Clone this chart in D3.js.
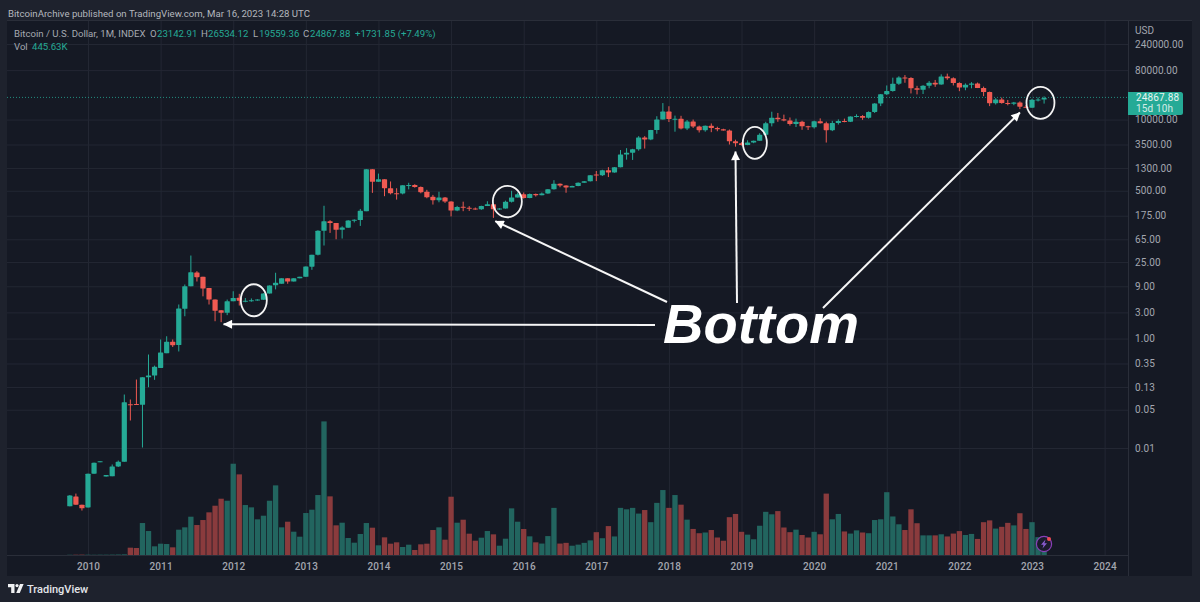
<!DOCTYPE html>
<html>
<head>
<meta charset="utf-8">
<script src="https://d3js.org/d3.v7.min.js"></script>
<style>
  html, body { margin: 0; padding: 0; background: #1e222d; }
  svg { display: block; font-family: Roboto, sans-serif; }
  .axis path, .axis line { display: none; }
  .axis text { fill: #a3a6af; font-size: 10px; font-family: Roboto, sans-serif; letter-spacing: 0.1px; }
  .grid path { display: none; }
  .grid line { stroke: #232733; stroke-width: 1; }
  .grid text { display: none; }
</style>
</head>
<body>
<svg id="chart" width="1200" height="602"></svg>
<script>
// monthly candles, Oct 2009 .. Mar 2023, one row per year
const opens = [
  0.00086, 0.0013, 0.00092,
  0.00082, 0.0034, 0.0055, 0.0030, 0.00305, 0.0046, 0.0056, 0.0632, 0.0635, 0.0615, 0.196, 0.21,
  0.29, 0.54, 0.87, 0.76, 3.5, 9.0, 16.1, 13.4, 8.4, 5.15, 3.3, 2.95,
  4.8, 5.55, 4.87, 4.92, 5.0, 5.1, 6.64, 9.4, 10.0, 12.6, 11, 12.6,
  13.4, 20.5, 33.8, 93, 139, 129, 97, 106, 141, 146, 212, 1239,
  728, 808, 557, 452, 447, 630, 640, 585, 480, 388, 336, 378,
  318, 217, 255, 244, 236, 230, 263, 284, 230, 236, 314, 377,
  431, 368, 437, 416, 448, 531, 673, 624, 575, 609, 700, 745,
  990, 965, 1190, 1080, 1348, 2300, 2480, 2875, 4700, 4340, 6450, 10000,
  14000, 10200, 10300, 6900, 9240, 7500, 6400, 7730, 7000, 6625, 6300, 4000,
  3700, 3430, 3800, 4100, 5270, 8550, 10800, 10080, 9600, 8300, 9150, 7550,
  7200, 9350, 8530, 6410, 8620, 9450, 9140, 11350, 11650, 10780, 13800, 19700,
  29000, 33100, 45200, 58800, 57700, 37300, 35000, 41500, 47100, 43800, 61300, 57000,
  46300, 38500, 43200, 45500, 37700, 31800, 19900, 23300, 20000, 19400, 20500, 17200,
  16500, 23100, 23142.91
];
const highs = [
  0.00138, 0.00147, 0.00092,
  0.0034, 0.0054, 0.0057, 0.0032, 0.0050, 0.0059, 0.0948, 0.0769, 0.178, 0.196, 0.51, 0.32,
  0.96, 1.10, 0.96, 4.18, 9.7, 32.8, 17, 13.4, 8.4, 5.15, 3.3, 5.15,
  7.3, 6.55, 5.5, 5.4, 5.2, 6.7, 9.3, 15.9, 12.6, 12.6, 12.6, 13.4,
  20.7, 33.8, 95, 266, 145, 129, 112, 145, 150, 233, 1239, 1239,
  1030, 808, 740, 556, 630, 700, 660, 600, 520, 420, 480, 385,
  320, 265, 316, 262, 247, 267, 322, 285, 240, 330, 500, 465,
  465, 445, 445, 465, 535, 780, 680, 630, 620, 710, 755, 968,
  1150, 1210, 1350, 1350, 2780, 3000, 2920, 4980, 4980, 6470, 11500, 20000,
  17500, 11800, 11700, 9800, 10000, 7750, 7770, 8480, 7400, 6790, 6570, 4290,
  3850, 4180, 4120, 5630, 9100, 13900, 13200, 12300, 10900, 10400, 9500, 7700,
  9550, 10500, 9170, 9470, 10070, 10400, 11400, 12470, 12050, 14100, 19900, 29300,
  41950, 58300, 61700, 64900, 59500, 41300, 42500, 50500, 52900, 67000, 69000, 59000,
  47900, 45800, 48200, 47400, 40000, 32400, 24600, 25200, 22800, 21000, 21500, 18400,
  23900, 25300, 26534.12
];
const lows = [
  0.00086, 0.00092, 0.00072,
  0.00082, 0.0034, 0.0055, 0.0030, 0.00305, 0.0045, 0.0056, 0.0318, 0.0610, 0.0102, 0.129, 0.176,
  0.29, 0.54, 0.70, 0.58, 2.55, 9.0, 11.0, 5.9, 4.18, 2.07, 1.99, 2.67,
  4.8, 4.0, 4.6, 4.7, 4.9, 5.1, 6.64, 7.9, 10, 10, 11, 12.6,
  13.4, 18, 33, 50, 85, 65, 67, 106, 132, 114, 212, 458,
  728, 398, 430, 345, 430, 530, 570, 450, 365, 280, 308, 300,
  170, 212, 212, 214, 225, 224, 263, 160, 225, 236, 305, 377,
  360, 365, 392, 414, 440, 525, 580, 460, 590, 605, 695, 740,
  750, 930, 890, 1070, 1340, 1850, 1830, 2700, 2950, 4200, 5500, 10000,
  9000, 6000, 6600, 6420, 7000, 5800, 6000, 5880, 6120, 6280, 3500, 3200,
  3350, 3400, 3700, 4100, 5270, 7500, 9100, 9300, 7750, 7300, 6500, 6450,
  6850, 8460, 3800, 6150, 8100, 8900, 9000, 10900, 9880, 10400, 13200, 17600,
  28000, 32300, 43000, 47000, 30000, 28800, 29300, 37300, 39600, 43300, 53300, 42000,
  33000, 34300, 37200, 37600, 26700, 17600, 18800, 19500, 18200, 18300, 15500, 16300,
  16500, 21400, 19559.36
];
const closes = [
  0.00135, 0.00092, 0.00079,
  0.0034, 0.00536, 0.0057, 0.0032, 0.00459, 0.0056, 0.0687, 0.0615, 0.0615, 0.196, 0.211, 0.304,
  0.555, 0.87, 0.755, 3.53, 9.0, 16.3, 13.2, 8.2, 5.15, 3.2, 2.95, 4.8,
  5.5, 4.88, 4.92, 5.0, 5.15, 6.64, 9.3, 10.4, 12.6, 11, 12.6, 13.4,
  20.7, 33.8, 93, 139, 129, 97, 107, 143, 148, 215, 1239, 728,
  808, 557, 452, 447, 630, 640, 585, 471, 381, 336, 378, 318,
  217, 254, 244, 236, 230, 263, 284, 230, 236, 314, 377, 432,
  368, 437, 416, 448, 531, 673, 624, 575, 609, 700, 745, 963,
  965, 1190, 1080, 1348, 2300, 2480, 2875, 4700, 4340, 6450, 10000, 14000,
  10200, 10300, 6900, 9240, 7500, 6400, 7730, 7000, 6625, 6300, 4000, 3700,
  3430, 3800, 4100, 5270, 8550, 10800, 10080, 9600, 8300, 9150, 7550, 7200,
  9350, 8530, 6410, 8620, 9450, 9140, 11350, 11650, 10780, 13800, 19700, 29000,
  33100, 45200, 58800, 57700, 37300, 35000, 41500, 47100, 43800, 61300, 57000, 46300,
  38500, 43200, 45500, 37700, 31800, 19900, 23300, 20000, 19400, 20500, 17200, 16500,
  23100, 23143, 24867.88
];
// volume in thousands
const volumes = [
  6, 8, 10,
  8, 6, 8, 8, 10, 12, 16, 183, 175, 800, 600, 217,
  283, 275, 192, 633, 692, 958, 750, 875, 1067, 1233, 1408, 1358,
  2283, 2017, 1250, 1192, 892, 983, 1358, 1742, 692, 833, 583, 458,
  1050, 1133, 1500, 3342, 1467, 742, 808, 425, 308, 525, 800, 683,
  242, 442, 283, 317, 200, 258, 125, 267, 283, 625, 692, 383,
  1458, 808, 883, 533, 358, 433, 600, 517, 233, 408, 1167, 833,
  650, 467, 317, 286, 473, 1179, 286, 304, 232, 259, 304, 366,
  571, 420, 723, 464, 1179, 1143, 1179, 1036, 1125, 821, 1304, 1625,
  1179, 1500, 1259, 884, 652, 545, 563, 625, 438, 357, 946, 1027,
  580, 509, 393, 732, 1080, 1018, 1098, 688, 571, 634, 500, 438,
  580, 518, 1536, 893, 1027, 589, 536, 616, 563, 545, 875, 893,
  1571, 964, 768, 625, 1143, 795, 491, 491, 491, 518, 464, 536,
  598, 500, 527, 402, 821, 866, 661, 705, 804, 741, 1045, 652,
  821, 446, 445.63
];
const firstMonth = -3; // Oct 2009, counted in months from Jan 2010
const yearLabels = [2010, 2011, 2012, 2013, 2014, 2015, 2016, 2017, 2018, 2019, 2020, 2021, 2022, 2023, 2024];
const priceTicks = [240000, 80000, 10000, 3500, 1300, 500, 175, 65, 25, 9, 3, 1, 0.35, 0.13, 0.05, 0.01];
const lastPrice = 24867.88;

// hand-drawn notes, month index and price of each
const noteCircles = [
  { month: 27.4, price: 5.0, rx: 13, ry: 16 },
  { month: 69.3, price: 318, rx: 14.5, ry: 15.7 },
  { month: 110.2, price: 3760, rx: 12, ry: 16 },
  { month: 157.4, price: 20200, rx: 14, ry: 16 }
];
const noteArrows = [
  { month: 22.4, price: 1.82, fromX: 655, fromY: 325 },
  { month: 67.3, price: 139, fromX: 667, fromY: 302 },
  { month: 107, price: 2600, fromX: 737, fromY: 303 },
  { month: 154, price: 13450, fromX: 823, fromY: 308 }
];

const upColor = '#25aa96', downColor = '#ef5a52';
const upVol = '#22655f', downVol = '#8a3b3d';

const svg = d3.select('#chart');

// chart panel
const paneLeft = 7, paneTop = 20, paneRight = 1128, paneBottom = 555, frameRight = 1192, frameBottom = 576;

svg.append('rect').attr('width', 1200).attr('height', 602).attr('fill', '#1e222d');
svg.append('rect')
  .attr('x', paneLeft).attr('y', paneTop)
  .attr('width', frameRight - paneLeft).attr('height', frameBottom - paneTop)
  .attr('fill', '#151924');

const x = d3.scaleLinear().domain([0, 156]).range([88, 1032]);
const y = d3.scaleLog().domain([240000, 0.01]).range([44, 448]);
const yVol = d3.scaleLinear().domain([0, 3342]).range([555, 421.4]);

const step = x(1) - x(0);
const bodyWidth = step * 0.86;
const candles = closes.map((c, i) => ({
  month: firstMonth + i, open: opens[i], high: highs[i], low: lows[i], close: c, vol: volumes[i], up: c >= opens[i]
}));

// gridlines
svg.append('g').attr('class', 'grid')
  .attr('transform', `translate(0,${paneBottom})`)
  .call(d3.axisBottom(x)
    .tickValues(yearLabels.map(d => (d - 2010) * 12))
    .tickSize(-(paneBottom - paneTop)));
svg.append('g').attr('class', 'grid')
  .attr('transform', `translate(${paneLeft},0)`)
  .call(d3.axisRight(y)
    .tickValues(priceTicks)
    .tickSize(paneRight - paneLeft));

// volume
svg.append('g').selectAll('rect')
  .data(candles)
  .join('rect')
  .attr('x', d => x(d.month) - step * 0.44)
  .attr('width', step * 0.88)
  .attr('y', d => yVol(d.vol))
  .attr('height', d => yVol(0) - yVol(d.vol))
  .attr('fill', d => d.up ? upVol : downVol);

// last price line
svg.append('line')
  .attr('x1', paneLeft).attr('x2', paneRight)
  .attr('y1', y(lastPrice) - 0.5).attr('y2', y(lastPrice) - 0.5)
  .attr('stroke', '#25aa96').attr('stroke-dasharray', '1 2').attr('stroke-opacity', 0.8);

// candles
svg.append('g').selectAll('line')
  .data(candles)
  .join('line')
  .attr('x1', d => x(d.month)).attr('x2', d => x(d.month))
  .attr('y1', d => y(d.high)).attr('y2', d => y(d.low))
  .attr('stroke', d => d.up ? upColor : downColor);
svg.append('g').selectAll('rect')
  .data(candles)
  .join('rect')
  .attr('x', d => x(d.month) - bodyWidth / 2)
  .attr('width', bodyWidth)
  .attr('y', d => Math.min(y(d.open), y(d.close)))
  .attr('height', d => Math.max(1, Math.abs(y(d.open) - y(d.close))))
  .attr('rx', 0.6)
  .attr('fill', d => d.up ? upColor : downColor);

// axes
svg.append('g').attr('class', 'axis')
  .attr('transform', `translate(0,${paneBottom})`)
  .call(d3.axisBottom(x)
    .tickValues(yearLabels.map(d => (d - 2010) * 12))
    .tickFormat(d => 2010 + d / 12)
    .tickPadding(8)
    .tickSize(0))
  .selectAll('text').attr('font-weight', 500);
svg.append('g').attr('class', 'axis')
  .attr('transform', 'translate(1135,0)')
  .call(d3.axisRight(y)
    .tickValues(priceTicks)
    .tickFormat(d => d.toFixed(2))
    .tickPadding(0)
    .tickSize(0));

// pane borders
svg.append('g').attr('stroke', '#2a2e39').attr('fill', 'none').call(g => {
  g.append('line').attr('x1', paneLeft).attr('x2', frameRight).attr('y1', paneTop + 0.5).attr('y2', paneTop + 0.5);
  g.append('line').attr('x1', paneRight + 0.5).attr('x2', paneRight + 0.5).attr('y1', paneTop).attr('y2', frameBottom);
  g.append('line').attr('x1', paneLeft).attr('x2', paneRight).attr('y1', paneBottom + 0.5).attr('y2', paneBottom + 0.5);
});

svg.append('text').attr('x', 1135).attr('y', 30.5).attr('dy', '0.32em')
  .attr('fill', '#a3a6af').attr('font-size', 10).text('USD');

// last price tag
const tagY = y(lastPrice);
svg.append('path')
  .attr('d', `M${paneRight},${tagY - 6}h52.5q2.5,0 2.5,2.5v18q0,2.5 -2.5,2.5h-52.5z`)
  .attr('fill', '#25aa96');
svg.append('text').attr('x', 1136).attr('y', tagY - 0.5).attr('dy', '0.32em')
  .attr('fill', '#e6f4f1').attr('font-size', 10).attr('letter-spacing', 0.15).text('24867.88');
svg.append('text').attr('x', 1136).attr('y', tagY + 10.5).attr('dy', '0.32em')
  .attr('fill', '#d4ece7').attr('font-size', 10).attr('letter-spacing', 0.15).text('15d 10h');

// header and legend
svg.append('text').attr('x', 8).attr('y', 17)
  .attr('fill', '#b4b7be').attr('font-size', 9.65)
  .text('BitcoinArchive published on TradingView.com, Mar 16, 2023 14:28 UTC');

const legendGray = '#a6a9b1', legendTeal = '#25aa96';
const legendItems = [
  [14, 37, 'Bitcoin / U.S. Dollar, 1M, INDEX', legendGray],
  [150, 37, 'O', legendGray], [157, 37, '23142.91', legendTeal],
  [201, 37, 'H', legendGray], [208, 37, '26534.12', legendTeal],
  [253, 37, 'L', legendGray], [259, 37, '19559.36', legendTeal],
  [303, 37, 'C', legendGray], [310, 37, '24867.88', legendTeal],
  [355, 37, '+1731.85 (+7.49%)', legendTeal],
  [14, 50, 'Vol', legendGray], [32, 50, '445.63K', legendTeal]
];
svg.append('g').selectAll('text')
  .data(legendItems)
  .join('text')
  .attr('x', d => d[0]).attr('y', d => d[1])
  .attr('fill', d => d[3]).attr('font-size', 9.6)
  .text(d => d[2]);

// notes
svg.append('g').selectAll('ellipse')
  .data(noteCircles)
  .join('ellipse')
  .attr('cx', d => x(d.month)).attr('cy', d => y(d.price))
  .attr('rx', d => d.rx).attr('ry', d => d.ry)
  .attr('fill', 'none').attr('stroke', '#f4f4f4').attr('stroke-width', 1.8);

svg.append('defs').append('marker')
  .attr('id', 'head').attr('viewBox', '0 0 10 10')
  .attr('refX', 9.5).attr('refY', 5)
  .attr('markerWidth', 11).attr('markerHeight', 9)
  .attr('markerUnits', 'userSpaceOnUse')
  .attr('orient', 'auto')
  .append('path').attr('d', 'M0,0L10,5L0,10z').attr('fill', '#fff');
svg.append('g').selectAll('line')
  .data(noteArrows)
  .join('line')
  .attr('x1', d => d.fromX).attr('y1', d => d.fromY)
  .attr('x2', d => x(d.month)).attr('y2', d => y(d.price))
  .attr('stroke', '#f6f6f6').attr('stroke-width', 2)
  .attr('marker-end', 'url(#head)');

svg.append('text').attr('x', 663).attr('y', 343)
  .attr('fill', '#fff')
  .style('font-family', '"Liberation Sans", Arial, sans-serif')
  .style('font-weight', 700).style('font-style', 'italic').style('font-size', '56px')
  .text('Bottom');

// flash icon over the last volume bars
const flash = svg.append('g').attr('transform', 'translate(1044,544)');
flash.append('circle').attr('r', 7.6).attr('fill', '#1b1a2c').attr('stroke', '#8a3fb8').attr('stroke-width', 1.2);
flash.append('path').attr('d', 'M1.5,-4.5L-3,0.8H-0.4L-1.5,4.5L3,-0.8H0.4z').attr('fill', '#8a5cd0');
flash.append('circle').attr('cx', 5).attr('cy', -5).attr('r', 2).attr('fill', '#ee4a55');

// logo
const logo = svg.append('g').attr('transform', 'translate(8,584)').attr('fill', '#f0f1f3');
logo.append('path').attr('d', 'M0,0H6.5V9H3.2V3.2H0z');
logo.append('circle').attr('cx', 9).attr('cy', 1.6).attr('r', 1.6);
logo.append('path').attr('d', 'M12,0H15.6L11.8,9H8.2z');
svg.append('text').attr('x', 27).attr('y', 593)
  .attr('fill', '#e4e6ea').attr('font-size', 11).attr('font-weight', 500).text('TradingView');
</script>
</body>
</html>
